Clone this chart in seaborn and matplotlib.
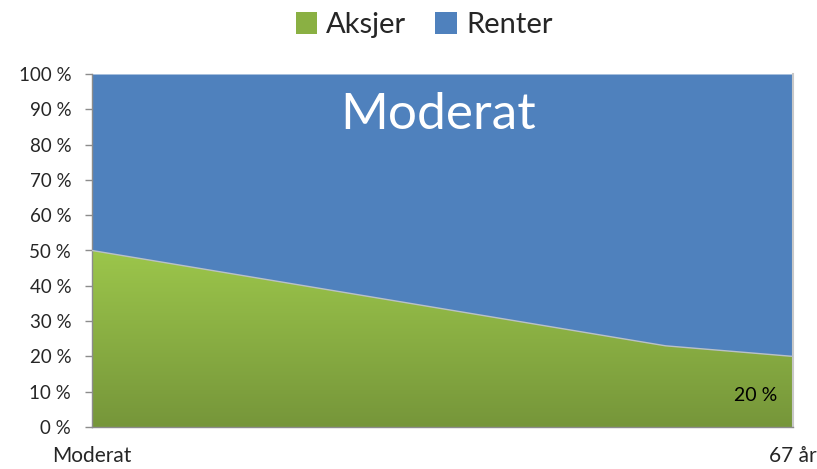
import numpy as np
import matplotlib
matplotlib.use("Agg")
import matplotlib.pyplot as plt
import seaborn as sns
from matplotlib.colors import LinearSegmentedColormap
from matplotlib.patches import Patch

# data: share in stocks (Aksjer) from start profile to age 67
steps = list(range(12))
aksjer = [50, 47, 44, 41, 38, 35, 32, 29, 26, 23, 21.5, 20]
renter = [100 - a for a in aksjer]
x_labels = ["Moderat", "67 år"]
y_ticks = [0, 10, 20, 30, 40, 50, 60, 70, 80, 90, 100]

sns.set_style("white")
plt.rcParams["font.family"] = ["Lato", "DejaVu Sans"]

fig = plt.figure(figsize=(8.17, 4.69), dpi=100)
ax = fig.add_axes([92 / 817, 42 / 469, 701 / 817, 353 / 469])

blue = "#4f81bd"
top = [a + r for a, r in zip(aksjer, renter)]

# blue (Renter) stacked on top
ax.fill_between(steps, aksjer, top, color=blue, linewidth=0, zorder=1)

# green (Aksjer) with vertical gradient
green_cmap = LinearSegmentedColormap.from_list("g", ["#76963a", "#9cc64b"])
poly = ax.fill_between(steps, 0, aksjer, color="none", linewidth=0, zorder=2)
grad = np.linspace(0, 1, 256).reshape(-1, 1)
img = ax.imshow(grad, cmap=green_cmap, origin="lower", aspect="auto",
                extent=[0, 11, 0, 50], zorder=2)
img.set_clip_path(poly.get_paths()[0], transform=ax.transData)

# thin boundary line
sns.lineplot(x=steps, y=aksjer, ax=ax, color="#b9c1c9", linewidth=1, zorder=3)

ax.set_xlim(0, 11)
ax.set_ylim(0, 100)
ax.set_yticks(y_ticks)
ax.set_yticklabels([f"{v} %" for v in y_ticks], fontsize=13.5)
ax.set_xticks([0, 11])
ax.set_xticklabels(x_labels, fontsize=15)
ax.tick_params(axis="x", length=0, pad=14)
ax.tick_params(axis="y", length=5, width=1, color="#8c8c8c", pad=10, direction="out", left=True)
ax.spines["top"].set_visible(False)
ax.spines["right"].set_color("#c8c8c8")
ax.spines["right"].set_linewidth(1.5)
for s in ["left", "bottom"]:
    ax.spines[s].set_color("#8c8c8c")
    ax.spines[s].set_linewidth(1)

# big title text inside the chart
ax.text(5.43, 88.4, "Moderat", color="white", fontsize=37, ha="center", va="center", zorder=4)
ax.text(10.76, 9, "20 %", color="black", fontsize=14, ha="right", va="center", zorder=4)

handles = [Patch(facecolor="#8ab043", edgecolor="none"), Patch(facecolor=blue, edgecolor="none")]
fig.legend(handles, ["Aksjer", "Renter"], loc="upper center", bbox_to_anchor=(0.519, 1.03),
           ncol=2, frameon=False, fontsize=21, handlelength=0.75, handleheight=0.75,
           handletextpad=0.3, columnspacing=1.0)

fig.savefig("out.png", dpi=100)
